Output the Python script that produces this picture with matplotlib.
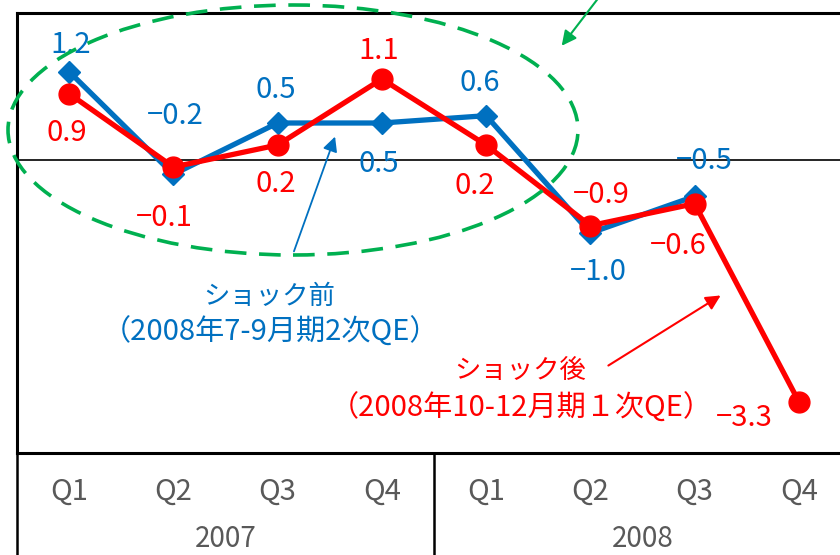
import numpy as np
import matplotlib
matplotlib.use("Agg")
import matplotlib.pyplot as plt
from matplotlib.patches import Ellipse

plt.rcParams['font.family'] = ['Noto Sans CJK JP', 'DejaVu Sans']

# --- data ---
quarters = ["Q1", "Q2", "Q3", "Q4", "Q1", "Q2", "Q3", "Q4"]
years = ["2007", "2008"]
before_shock = [1.2, -0.2, 0.5, 0.5, 0.6, -1.0, -0.5, np.nan]   # 2008年7-9月期2次QE
after_shock = [0.9, -0.1, 0.2, 1.1, 0.2, -0.9, -0.6, -3.3]      # 2008年10-12月期1次QE

# label offsets in pixels (dx, dy) relative to each point
blue_off = [(2, 27), (2, 58), (-2, 33), (-3, -41), (-6, 33), (8, -39), (10, 35), (0, 0)]
red_off = [(-2, -39), (-9, -51), (-2, -39), (-3, 28), (-11, -41), (11, 31), (-16, -42), (-55, -16)]

BLUE = "#0070C0"
RED = "#FF0000"
GREEN = "#00B050"
GRAY = "#595959"

W, H = 840, 555
fig = plt.figure(figsize=(W / 100, H / 100), dpi=100)
# plot area in pixels: x 17..851 (runs past the right edge), y 13..453
ax = fig.add_axes([17 / W, 1 - 453 / H, (851 - 17) / W, (453 - 13) / H])
x = np.arange(len(quarters))
ax.set_xlim(-0.5, len(quarters) - 0.5)
ax.set_ylim(-4, 2)

ax.axhline(0, color="black", lw=1.2, zorder=1)
ax.plot(x, before_shock, color=BLUE, lw=3.8, marker="D", ms=11, zorder=3)
ax.plot(x, after_shock, color=RED, lw=3.8, marker="o", ms=15, zorder=4)

def fmt(v):
    return f"{v:.1f}".replace("-", "\u2212")

for i, v in enumerate(before_shock):
    if np.isnan(v):
        continue
    ax.annotate(fmt(v), (i, v), xytext=blue_off[i], textcoords="offset pixels",
                ha="center", va="center", color=BLUE, fontsize=21, zorder=5)
for i, v in enumerate(after_shock):
    ax.annotate(fmt(v), (i, v), xytext=red_off[i], textcoords="offset pixels",
                ha="center", va="center", color=RED, fontsize=21, zorder=5)

# frame
for s in ["left", "top", "bottom"]:
    ax.spines[s].set_linewidth(2.2)
ax.spines["right"].set_visible(False)
ax.set_yticks([])
ax.set_xticks(x)
ax.set_xticklabels(quarters, color=GRAY, fontsize=21)
ax.tick_params(axis="x", length=0, pad=17)

# category table lines and year labels
tab_h = (555 - 453) / (453 - 13)
for xv in [0, 0.5]:
    ax.plot([xv, xv], [0, -tab_h - 0.05], transform=ax.transAxes, color="black",
            lw=1.8, clip_on=False)
for j, yr in enumerate(years):
    fig.text((17 + (j + 0.5) * 417) / W, 1 - 539 / H, yr, ha="center", va="center",
             color=GRAY, fontsize=20)

# green dashed ellipse + arrow
ell = Ellipse((293 / W, 1 - 130 / H), 570 / W, 250 / H, transform=fig.transFigure,
              fill=False, edgecolor=GREEN, lw=2.6, linestyle=(0, (6, 3.5)), zorder=6)
fig.patches.append(ell)
ax.annotate("", xy=(560, H - 48), xycoords="figure pixels", xytext=(603, H + 8),
            textcoords="figure pixels", annotation_clip=False,
            arrowprops=dict(arrowstyle="-|>", color=GREEN, lw=1.5, mutation_scale=22))

# blue / red annotations
ax.annotate("", xy=(336, H - 134), xycoords="figure pixels", xytext=(293, H - 254),
            textcoords="figure pixels",
            arrowprops=dict(arrowstyle="-|>", color=BLUE, lw=1.3, mutation_scale=22))
ax.annotate("", xy=(723, H - 294), xycoords="figure pixels", xytext=(606, H - 367),
            textcoords="figure pixels",
            arrowprops=dict(arrowstyle="-|>", color=RED, lw=1.5, mutation_scale=22))

fig.text(269 / W, 1 - 296 / H, "ショック前", ha="center", va="center", color=BLUE, fontsize=19)
fig.text(270 / W, 1 - 333 / H, "（2008年7-9月期2次QE）", ha="center", va="center",
         color=BLUE, fontsize=21)
fig.text(520 / W, 1 - 371 / H, "ショック後", ha="center", va="center", color=RED, fontsize=19)
fig.text(521 / W, 1 - 409 / H, "（2008年10-12月期１次QE）", ha="center", va="center",
         color=RED, fontsize=21)

fig.savefig("out.png", dpi=100)
